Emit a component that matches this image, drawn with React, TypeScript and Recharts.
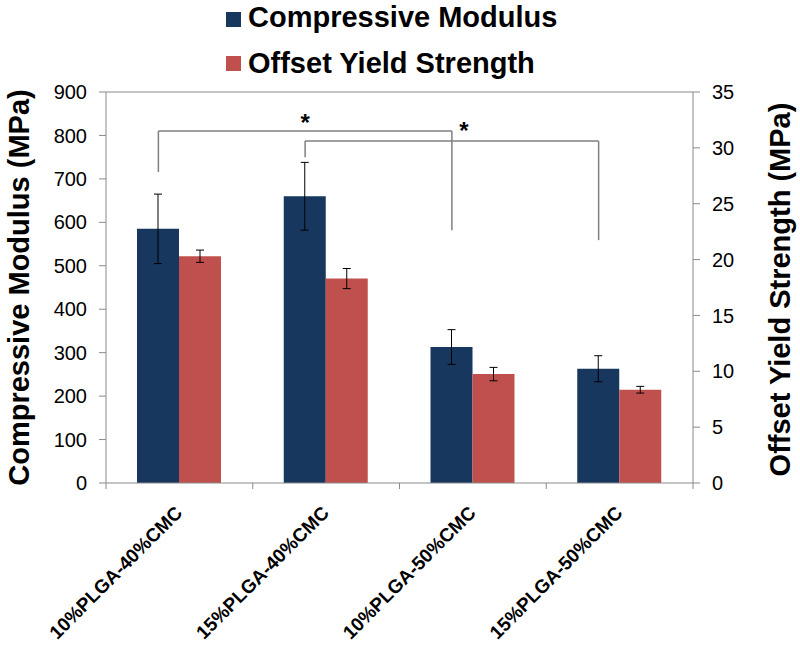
import React from 'react';
import { BarChart, Bar, XAxis, YAxis, ErrorBar, Legend, ReferenceLine } from 'recharts';

const FONT = '"Liberation Sans", Arial, Helvetica, sans-serif';

const categories = ['10%PLGA-40%CMC', '15%PLGA-40%CMC', '10%PLGA-50%CMC', '15%PLGA-50%CMC'];
const modulus = [585, 660, 313, 263];
const modulusErr = [80, 78, 40, 30];
const strength = [20.3, 18.3, 9.75, 8.35];
const strengthErr = [0.55, 0.9, 0.6, 0.3];

const leftTicks = [0, 100, 200, 300, 400, 500, 600, 700, 800, 900];
const rightTicks = [0, 5, 10, 15, 20, 25, 30, 35];

const seriesNames = ['Compressive Modulus', 'Offset Yield Strength'];
const BLUE = '#17375E';
const RED = '#C0504D';
const AXIS = '#8a8a8a';
const BRACKET = '#7f7f7f';
const BAR_SIZE = 42;

// significance brackets (left axis units)
const bracketFrom = [categories[0], categories[1]];
const bracketTo = [categories[2], categories[3]];
const bracketTop = [810, 787];
const bracketLeftEnd = [716, 750];
const bracketRightEnd = [582, 559];
const bracketStar = ['*', '*'];
const starDx = [0, 12];

const data = categories.map((c, i) => ({
  name: c,
  modulus: modulus[i],
  modulusErr: modulusErr[i],
  strength: strength[i],
  strengthErr: strengthErr[i],
}));

const shiftX = -BAR_SIZE / 2;

const segShape = (star?: string, dx = 0) => (p: any) => {
  const x1 = p.x1 + shiftX;
  const x2 = p.x2 + shiftX;
  return (
    <g>
      <line x1={x1} y1={p.y1} x2={x2} y2={p.y2} stroke={BRACKET} strokeWidth={1.5} />
      {star ? (
        <text
          x={(x1 + x2) / 2 + dx}
          y={p.y1 + (dx ? -2 : 0)}
          textAnchor="middle"
          fontFamily={FONT}
          fontWeight={700}
          fontSize={24}
          fill="#000"
        >
          {star}
        </text>
      ) : null}
    </g>
  );
};

const LegendContent = () => (
  <svg width={800} height={92} style={{ display: 'block' }}>
    {[BLUE, RED].map((col, i) => (
      <g key={i}>
        <rect x={226} y={i === 0 ? 12 : 56} width={15} height={15} fill={col} />
        <text
          x={248}
          y={i === 0 ? 27 : 73}
          fontFamily={FONT}
          fontWeight={700}
          fontSize={29}
          fill="#000"
        >
          {seriesNames[i]}
        </text>
      </g>
    ))}
  </svg>
);

const XTick = (props: any) => {
  const { x, y, payload, index, visibleTicksCount } = props;
  const off = payload && typeof payload.offset === 'number' ? payload.offset : 0;
  const ax = x + 4;
  const ay = y + 31;
  return (
    <g>
      {off ? <line x1={x - off} x2={x - off} y1={y} y2={y + 6} stroke={AXIS} /> : null}
      {off && index === visibleTicksCount - 1 ? (
        <line x1={x + off} x2={x + off} y1={y} y2={y + 6} stroke={AXIS} />
      ) : null}
      <text
        x={ax}
        y={ay}
        transform={`rotate(-45 ${ax} ${ay})`}
        textAnchor="end"
        fontFamily={FONT}
        fontWeight={700}
        fontSize={19}
        fill="#000"
      >
        {payload.value}
      </text>
    </g>
  );
};

const LeftTitle = (props: any) => {
  const vb = props.viewBox || {};
  const x = (vb.x ?? 0) + 29;
  const y = (vb.y ?? 92) + (vb.height ?? 391) / 2;
  return (
    <text
      x={x}
      y={y}
      transform={`rotate(-90 ${x} ${y})`}
      textAnchor="middle"
      fontFamily={FONT}
      fontWeight={700}
      fontSize={29}
      fill="#000"
    >
      Compressive Modulus (MPa)
    </text>
  );
};

const RightTitle = (props: any) => {
  const vb = props.viewBox || {};
  const x = (vb.x ?? 693) + 97;
  const y = (vb.y ?? 92) + (vb.height ?? 391) / 2 + 2;
  return (
    <text
      x={x}
      y={y}
      transform={`rotate(-90 ${x} ${y})`}
      textAnchor="middle"
      fontFamily={FONT}
      fontWeight={700}
      fontSize={29}
      fill="#000"
    >
      Offset Yield Strength (MPa)
    </text>
  );
};

const tickStyle = { fill: '#000', fontSize: 20, fontFamily: FONT };

export default function App() {
  return (
    <div style={{ position: 'absolute', left: 0, top: 0, width: 800, height: 646, background: '#fff' }}>
      <BarChart
        width={800}
        height={646}
        data={data}
        margin={{ top: 0, right: 0, left: 0, bottom: 0 }}
        barGap={0}
      >
        <Legend verticalAlign="top" align="center" content={<LegendContent />} />
        <XAxis
          dataKey="name"
          xAxisId="x"
          height={163}
          tickLine={false}
          tickSize={0}
          tickMargin={0}
          interval={0}
          axisLine={{ stroke: AXIS }}
          tick={<XTick />}
        />
        <YAxis
          yAxisId="left"
          orientation="left"
          width={106}
          domain={[0, 900]}
          ticks={leftTicks}
          interval={0}
          tickSize={7}
          tickMargin={12}
          tick={tickStyle}
          tickLine={{ stroke: AXIS }}
          axisLine={{ stroke: AXIS }}
          label={<LeftTitle />}
        />
        <YAxis
          yAxisId="right"
          orientation="right"
          width={107}
          domain={[0, 35]}
          ticks={rightTicks}
          interval={0}
          tickSize={7}
          tickMargin={12}
          tick={tickStyle}
          tickLine={{ stroke: AXIS }}
          axisLine={{ stroke: AXIS }}
          label={<RightTitle />}
        />
        <ReferenceLine xAxisId="x" yAxisId="left" y={900} stroke={AXIS} />
        <Bar
          xAxisId="x"
          yAxisId="left"
          dataKey="modulus"
          name={seriesNames[0]}
          fill={BLUE}
          barSize={BAR_SIZE}
          isAnimationActive={false}
        >
          <ErrorBar dataKey="modulusErr" width={4} stroke="#000" strokeWidth={1} isAnimationActive={false} />
        </Bar>
        <Bar
          xAxisId="x"
          yAxisId="right"
          dataKey="strength"
          name={seriesNames[1]}
          fill={RED}
          barSize={BAR_SIZE}
          isAnimationActive={false}
        >
          <ErrorBar dataKey="strengthErr" width={4} stroke="#000" strokeWidth={1} isAnimationActive={false} />
        </Bar>
        {bracketTop.map((top, i) => (
          <ReferenceLine
            key={`h${i}`}
            xAxisId="x"
            yAxisId="left"
            segment={[{ x: bracketFrom[i], y: top }, { x: bracketTo[i], y: top }]}
            shape={segShape(bracketStar[i], starDx[i])}
          />
        ))}
        {bracketTop.map((top, i) => (
          <ReferenceLine
            key={`l${i}`}
            xAxisId="x"
            yAxisId="left"
            segment={[{ x: bracketFrom[i], y: top }, { x: bracketFrom[i], y: bracketLeftEnd[i] }]}
            shape={segShape()}
          />
        ))}
        {bracketTop.map((top, i) => (
          <ReferenceLine
            key={`r${i}`}
            xAxisId="x"
            yAxisId="left"
            segment={[{ x: bracketTo[i], y: top }, { x: bracketTo[i], y: bracketRightEnd[i] }]}
            shape={segShape()}
          />
        ))}
      </BarChart>
    </div>
  );
}
